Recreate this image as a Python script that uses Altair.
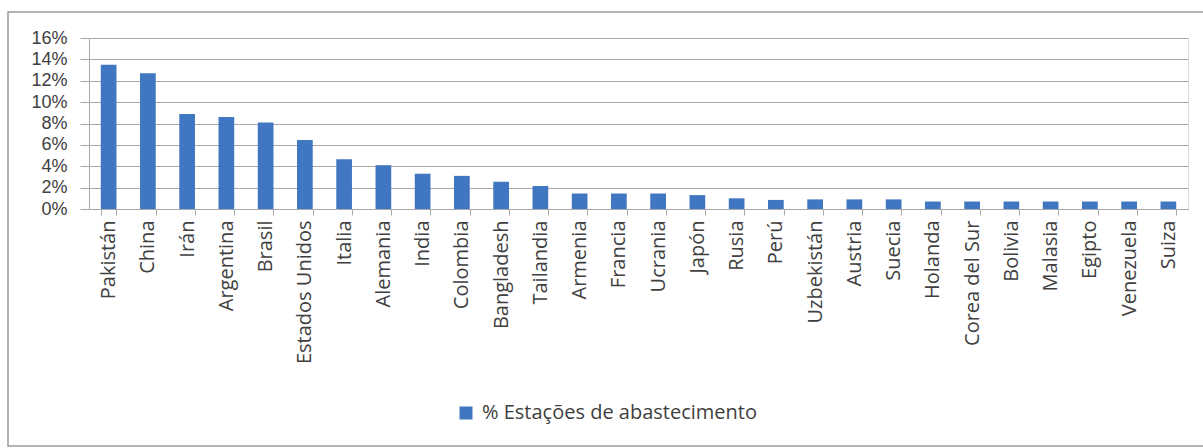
import altair as alt
import pandas as pd

countries = ["Pakistán", "China", "Irán", "Argentina", "Brasil", "Estados Unidos",
             "Italia", "Alemania", "India", "Colombia", "Bangladesh", "Tailandia",
             "Armenia", "Francia", "Ucrania", "Japón", "Rusia", "Perú", "Uzbekistán",
             "Austria", "Suecia", "Holanda", "Corea del Sur", "Bolivia", "Malasia",
             "Egipto", "Venezuela", "Suiza"]
share = [0.135, 0.127, 0.089, 0.086, 0.081, 0.0645, 0.0465, 0.041, 0.033, 0.031,
         0.0255, 0.0215, 0.0145, 0.0145, 0.0145, 0.013, 0.010, 0.0085, 0.009,
         0.009, 0.009, 0.007, 0.007, 0.007, 0.007, 0.007, 0.007, 0.007]
series_name = "% Estações de abastecimento"
y_ticks = [0, 0.02, 0.04, 0.06, 0.08, 0.10, 0.12, 0.14, 0.16]

df = pd.DataFrame({"pais": countries, "valor": share, "serie": series_name})

FONT = "Open Sans"
TEXT = "#404040"
GRID = "#a9a9a9"

bars = alt.Chart(df).mark_bar(color="#4177c1").encode(
    x=alt.X("pais:N", sort=None, title=None,
            scale=alt.Scale(paddingInner=0.6, paddingOuter=0.3),
            axis=alt.Axis(labelAngle=-90, labelFontSize=20, labelColor=TEXT,
                          labelFont=FONT, tickBand="extent", tickSize=6,
                          tickColor=GRID, domainColor=GRID, labelPadding=5,
                          labelBaseline="middle")),
    y=alt.Y("valor:Q", title=None,
            scale=alt.Scale(domain=[0, 0.16], nice=False),
            axis=alt.Axis(values=y_ticks, format=".0%", labelFontSize=18,
                          labelColor=TEXT, labelFont="Liberation Sans", tickSize=9,
                          tickColor=GRID, domainColor=GRID, gridColor=GRID,
                          labelPadding=13, grid=True)),
    color=alt.Color("serie:N", scale=alt.Scale(range=["#4177c1"]),
                    legend=alt.Legend(title=None, orient="none", legendX=367,
                                      legendY=365, symbolType="square",
                                      symbolSize=169, labelFontSize=20,
                                      labelFont=FONT, labelColor=TEXT,
                                      labelLimit=0,
                                      symbolStrokeWidth=0, labelOffset=6)),
)

border = alt.Chart(alt.Data(values=[{}])).mark_rect(
    fill=None, stroke="#9a9a9a", strokeWidth=1.5
).encode(
    x=alt.value(-81), x2=alt.value(1116), y=alt.value(-26), y2=alt.value(408)
)

chart = alt.layer(border, bars).properties(
    width=1099, height=171,
    autosize=alt.AutoSizeParams(type="none"),
    padding={"left": 89, "top": 38, "right": 15, "bottom": 239},
).configure_view(stroke=None).configure(background="white")

chart.save("out.html", embed_options={"renderer": "svg", "actions": False})
